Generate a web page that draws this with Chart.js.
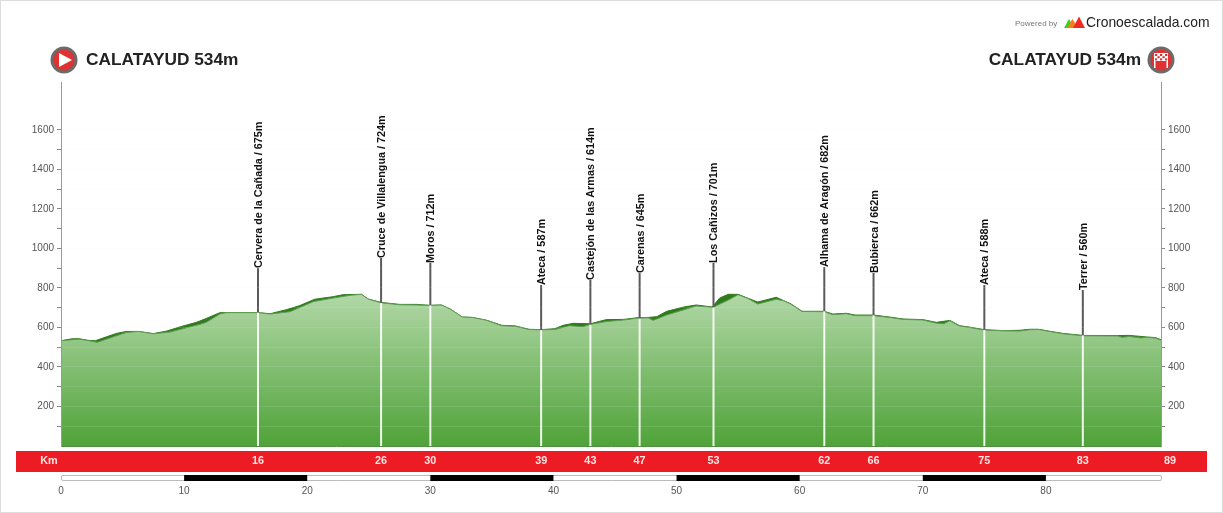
<!DOCTYPE html>
<html>
<head>
<meta charset="utf-8">
<title>Calatayud - Calatayud</title>
<script src="https://cdn.jsdelivr.net/npm/chart.js@4/dist/chart.umd.min.js"></script>
<style>
    html, body { margin: 0; padding: 0; background: #fff; }
    canvas { display: block; }
</style>
</head>
<body>
<canvas id="profileChart" width="1223" height="513"></canvas>
<script>
// Profile: km and metres
var detailKm = [0, 0.9, 1.5, 2.2, 2.8, 3.7, 4.5, 5.3, 6.3, 7.5, 8.6, 9.7, 11, 11.8, 12.9, 16, 17, 18.3, 19.4, 20.6, 22.1, 22.9, 24.4, 24.95, 26, 27.5, 28.9, 30, 30.9, 31.6, 32.6, 33.4, 34.6, 35.8, 36.9, 38, 39, 40.1, 40.8, 41.6, 43, 44.3, 45.7, 46.9, 47.7, 48.4, 49.2, 50.6, 51.6, 52.9, 53.5, 54.2, 55, 55.8, 56.6, 58.1, 58.7, 59.3, 60.2, 62, 62.7, 63.8, 64.5, 66, 67.3, 68.4, 70, 71.1, 72.2, 73, 73.9, 75, 76.6, 77.9, 78.7, 79.4, 80.2, 81.4, 83, 85.8, 86.8, 88.2, 88.9, 89.35];
var detailElev = [533, 543, 543, 535, 533, 553, 570, 580, 580, 569, 582, 604, 626, 646, 675, 675, 670, 690, 711, 743, 756, 766, 768, 744, 727, 717, 717, 712, 714, 694, 653, 651, 636, 611, 608, 591, 589, 594, 611, 621, 619, 640, 641, 650, 651, 655, 682, 704, 714, 704, 749, 768, 768, 748, 729, 753, 736, 719, 682, 682, 668, 672, 663, 663, 653, 643, 640, 626, 636, 609, 601, 589, 584, 586, 591, 591, 582, 570, 560, 559, 560, 552, 549, 538];

// Coarser outline, the steep wedges show where the detail rises above it
var chordKm = [0, 0.9, 1.5, 2.2, 2.95, 4.5, 5.3, 6.3, 7.5, 8.85, 9.9, 11.3, 11.8, 12.9, 13.4, 16, 17, 18.6, 20.5, 22.1, 23.5, 24.4, 24.95, 26, 27.5, 28.9, 30, 30.9, 31.6, 32.6, 33.4, 34.6, 35.8, 36.9, 38, 39, 40.1, 41.3, 42.4, 43, 44.3, 45.7, 46.9, 47.7, 48.1, 49.2, 50.6, 51.6, 52.9, 53.1, 54.2, 55, 55.8, 56.6, 58.1, 58.7, 59.3, 60.2, 62, 62.7, 63.8, 64.5, 66, 67.3, 68.4, 70, 71.1, 71.7, 72.2, 73, 73.9, 75, 76.6, 77.9, 78.7, 79.4, 80.2, 81.4, 83, 85.8, 86.2, 86.8, 87.7, 88.2, 88.9, 89.35];
var chordElev = [533, 538, 541, 534, 525, 558, 575, 580, 568, 577, 594, 616, 626, 668, 675, 675, 668, 680, 731, 749, 763, 768, 744, 725, 715, 714, 712, 714, 694, 653, 651, 636, 609, 606, 590, 588, 590, 609, 604, 616, 630, 638, 648, 649, 636, 663, 690, 709, 702, 706, 739, 766, 747, 719, 743, 735, 718, 681, 680, 665, 670, 660, 660, 651, 641, 638, 622, 619, 634, 607, 599, 587, 583, 582, 589, 590, 581, 568, 558, 557, 550, 555, 547, 550, 547, 536];

// Passing points
var passNames = ['Cervera de la Cañada', 'Cruce de Villalengua', 'Moros', 'Ateca', 'Castejón de las Armas', 'Carenas', 'Los Cañizos', 'Alhama de Aragón', 'Bubierca', 'Ateca', 'Terrer'];
var passKm = [16, 26, 30, 39, 43, 47, 53, 62, 66, 75, 83];
var passElev = [675, 724, 712, 587, 614, 645, 701, 682, 662, 588, 560];
var passPoleTop = [901, 952, 927, 815, 841, 876, 927, 906, 876, 815, 790];

var elevTicks = [100, 200, 300, 400, 500, 600, 700, 800, 900, 1000, 1100, 1200, 1300, 1400, 1500, 1600];
var kmTicks = [0, 10, 20, 30, 40, 50, 60, 70, 80];
var blackBars = [[10, 20], [30, 40], [50, 60], [70, 80]];
var finishKm = 89;
var startLabel = 'CALATAYUD 534m';
var finishLabel = 'CALATAYUD 534m';

var FONT = '"Liberation Sans", Arial, sans-serif';

function toPoints(xs, ys) {
    return xs.map(function (x, i) { return { x: x, y: ys[i] }; });
}

// Green fill, light near the summit line and dark at the base
function profileGradient(context) {
    var chart = context.chart;
    if (!chart.chartArea) return '#7ab96a';
    var y = chart.scales.y;
    var g = chart.ctx.createLinearGradient(0, y.getPixelForValue(780), 0, y.getPixelForValue(0));
    g.addColorStop(0, '#b3d8a9');
    g.addColorStop(1, '#4fa338');
    return g;
}

function drawIconBase(ctx, cx, cy) {
    ctx.beginPath();
    ctx.arc(cx, cy, 13.5, 0, Math.PI * 2);
    ctx.fillStyle = '#6b6b6b';
    ctx.fill();
    ctx.beginPath();
    ctx.arc(cx, cy, 10.5, 0, Math.PI * 2);
    ctx.fillStyle = '#e03232';
    ctx.fill();
}

function drawHeader(ctx, area) {
    // start icon
    drawIconBase(ctx, 64, 60);
    ctx.beginPath();
    ctx.moveTo(59, 53);
    ctx.lineTo(72, 60);
    ctx.lineTo(59, 67);
    ctx.closePath();
    ctx.fillStyle = '#fff';
    ctx.fill();

    // finish icon, small checkered arch
    drawIconBase(ctx, 1161, 60);
    ctx.fillStyle = '#fff';
    ctx.fillRect(1154, 53, 14, 8);
    ctx.fillRect(1154, 61, 1.5, 7);
    ctx.fillRect(1166.5, 61, 1.5, 7);
    ctx.fillStyle = '#e03232';
    for (var r = 0; r < 3; r++) {
        for (var c = 0; c < 5; c++) {
            if ((r + c) % 2 === 0) ctx.fillRect(1155 + c * 2.5, 54 + r * 2.2, 2.2, 2);
        }
    }

    ctx.fillStyle = '#222';
    ctx.font = 'bold 17.3px ' + FONT;
    ctx.textBaseline = 'middle';
    ctx.textAlign = 'left';
    ctx.fillText(startLabel, 86, 60);
    ctx.textAlign = 'right';
    ctx.fillText(finishLabel, 1141, 60);

    // Powered by + logo
    ctx.fillStyle = '#777';
    ctx.font = '8px ' + FONT;
    ctx.textAlign = 'left';
    ctx.fillText('Powered by', 1015, 23.5);
    drawPeak(ctx, 1064, 1074, 19, '#35d415');
    drawPeak(ctx, 1067, 1078, 19, '#f57c1f');
    drawPeak(ctx, 1073, 1085, 16.5, '#ee2a24');
    ctx.fillStyle = '#222';
    ctx.font = '13.9px ' + FONT;
    ctx.fillText('Cronoescalada.com', 1086, 23.5);
}

function drawPeak(ctx, x0, x1, top, color) {
    ctx.beginPath();
    ctx.moveTo(x0, 28);
    ctx.lineTo((x0 + x1) / 2, top);
    ctx.lineTo(x1, 28);
    ctx.closePath();
    ctx.fillStyle = color;
    ctx.fill();
}

function drawKmBand(ctx, xScale, area) {
    ctx.fillStyle = '#ed1c24';
    ctx.fillRect(16, 451, 1191, 21);
    ctx.fillStyle = '#ffe3e3';
    ctx.font = 'bold 10.8px ' + FONT;
    ctx.textAlign = 'center';
    ctx.textBaseline = 'middle';
    ctx.fillText('Km', 49, 461.5);
    passKm.forEach(function (km) {
        ctx.fillText(String(km), xScale.getPixelForValue(km), 461.5);
    });
    // last label sits past the end of the axis in the reference
    ctx.fillText(String(finishKm), area.right + 9, 461.5);
}

function drawScaleBar(ctx, xScale, area) {
    ctx.beginPath();
    ctx.roundRect(area.left + 0.5, 475.5, area.right - area.left, 5, 1.5);
    ctx.fillStyle = '#fff';
    ctx.fill();
    ctx.strokeStyle = '#bbb';
    ctx.lineWidth = 1;
    ctx.stroke();
    ctx.fillStyle = '#000';
    blackBars.forEach(function (bar) {
        var x0 = xScale.getPixelForValue(bar[0]);
        var x1 = xScale.getPixelForValue(bar[1]);
        ctx.fillRect(x0, 475, x1 - x0, 6);
    });
}

var decorPlugin = {
    id: 'decor',
    beforeDraw: function (chart) {
        var ctx = chart.ctx;
        ctx.save();
        ctx.fillStyle = '#fff';
        ctx.fillRect(0, 0, chart.width, chart.height);
        ctx.restore();
    },
    afterDraw: function (chart) {
        var ctx = chart.ctx, area = chart.chartArea;
        var xScale = chart.scales.x, yScale = chart.scales.y;
        ctx.save();

        drawHeader(ctx, area);
        drawKmBand(ctx, xScale, area);
        drawScaleBar(ctx, xScale, area);

        // Vertical labels above each pole
        ctx.fillStyle = '#111';
        ctx.font = 'bold 10.8px ' + FONT;
        ctx.textAlign = 'left';
        ctx.textBaseline = 'middle';
        passNames.forEach(function (name, i) {
            ctx.save();
            ctx.translate(xScale.getPixelForValue(passKm[i]) + 1, yScale.getPixelForValue(passPoleTop[i]));
            ctx.rotate(-Math.PI / 2);
            ctx.fillText(name + ' / ' + passElev[i] + 'm', 0, 0);
            ctx.restore();
        });

        // Picture frame
        ctx.strokeStyle = '#ddd';
        ctx.lineWidth = 1;
        ctx.strokeRect(0.5, 0.5, chart.width - 1, chart.height - 1);
        ctx.restore();
    }
};

// Poles: white inside the profile, dark grey above it
var poleDatasets = [];
passKm.forEach(function (km, i) {
    poleDatasets.push({
        data: [{ x: km, y: 0 }, { x: km, y: passElev[i] }],
        borderColor: 'rgba(255,255,255,0.9)', borderWidth: 2, pointRadius: 0, order: 0
    });
    poleDatasets.push({
        data: [{ x: km, y: passElev[i] }, { x: km, y: passPoleTop[i] }],
        borderColor: '#5a5a5a', borderWidth: 2, pointRadius: 0, order: 0
    });
});

function elevAxis(position, width) {
    return {
        type: 'linear',
        position: position,
        min: 0,
        max: 1843,
        afterBuildTicks: function (scale) {
            scale.ticks = elevTicks.map(function (v) { return { value: v }; });
        },
        afterFit: function (scale) { scale.width = width; },
        // border z above the grid, it needs the grid pass to run first
        border: { display: true, color: '#999', width: 1, z: 2 },
        grid: {
            z: 1,
            drawOnChartArea: position === 'left',
            tickLength: 4,
            tickColor: '#888',
            color: 'rgba(235,235,235,0.12)'
        },
        ticks: {
            padding: 3,
            color: '#555',
            font: { family: FONT, size: 10 },
            autoSkip: false,
            callback: function (v) { return v % 200 === 0 ? String(v) : ''; }
        }
    };
}

document.addEventListener('DOMContentLoaded', function () {
    var ctx = document.getElementById('profileChart').getContext('2d');
    new Chart(ctx, {
        type: 'line',
        data: {
            datasets: [{
                data: toPoints(chordKm, chordElev),
                backgroundColor: profileGradient,
                borderColor: '#5f9a55',
                borderWidth: 1,
                pointRadius: 0,
                fill: 'origin',
                order: 1
            }, {
                data: toPoints(detailKm, detailElev),
                backgroundColor: '#2f7d1a',
                borderColor: '#2f7d1a',
                borderWidth: 1,
                pointRadius: 0,
                fill: 'origin',
                order: 2
            }].concat(poleDatasets)
        },
        options: {
            responsive: false,
            animation: false,
            layout: { padding: { top: 82, left: 0, right: 0, bottom: 0 } },
            plugins: { legend: { display: false }, tooltip: { enabled: false } },
            scales: {
                x: {
                    type: 'linear',
                    min: 0,
                    max: 89.35,
                    afterBuildTicks: function (scale) {
                        scale.ticks = kmTicks.map(function (v) { return { value: v }; });
                    },
                    afterFit: function (scale) { scale.height = 67; },
                    border: { display: true, color: '#4f8f3f', z: 2 },
                    grid: { display: false, drawTicks: false },
                    ticks: {
                        padding: 39,
                        color: '#555',
                        maxRotation: 0,
                        autoSkip: false,
                        font: { family: FONT, size: 10 }
                    }
                },
                y: elevAxis('left', 61),
                yRight: elevAxis('right', 62)
            }
        },
        plugins: [decorPlugin]
    });
});
</script>
</body>
</html>
